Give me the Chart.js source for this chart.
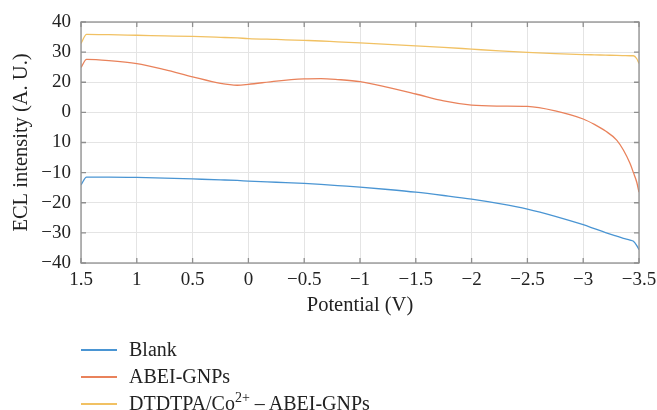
<!DOCTYPE html>
<html>
<head>
<meta charset="utf-8">
<script src="https://cdn.jsdelivr.net/npm/chart.js@4/dist/chart.umd.min.js"></script>
<style>
  body { margin: 0; background: #fff; }
  #wrap { position: relative; width: 657px; height: 410px; overflow: hidden; }
  #legend { position: absolute; left: 81px; top: 336px; font-family: "Liberation Serif", "Times New Roman", serif; font-size: 20px; color: #222; }
  #legend .row { display: flex; align-items: center; height: 27px; }
  #legend .swatch { width: 36px; height: 2px; margin-right: 12px; }
</style>
</head>
<body>
<div id="wrap">
  <canvas id="chart" width="657" height="410"></canvas>
  <div id="legend"></div>
</div>
<script>
// potential (V), shared by all three curves
const potential = [1.5, 1.45, 1.25, 1.0, 0.75, 0.5, 0.25, 0.1, 0, -0.25, -0.5, -0.65, -0.8, -1, -1.25,
  -1.5, -1.75, -2, -2.25, -2.5, -2.75, -3, -3.1, -3.2, -3.3, -3.36, -3.42, -3.45, -3.48, -3.5];

const blank = [-14.1, -11.5, -11.5, -11.6, -11.8, -12.1, -12.4, -12.6, -12.8, -13.2, -13.6, -13.9, -14.3, -14.8, -15.6,
  -16.5, -17.6, -18.8, -20.3, -22.1, -24.5, -27.3, -28.6, -29.9, -31.1, -31.8, -32.4, -32.8, -34.2, -35.6];
const abeiGnps = [24.9, 27.6, 27.2, 26.2, 24.2, 21.8, 19.6, 19.0, 19.3, 20.4, 21.1, 21.2, 20.9, 20.2, 18.3,
  16.1, 13.8, 12.4, 12.1, 12.0, 10.5, 7.8, 6.0, 3.8, 0.8, -2.5, -7.0, -10.0, -13.2, -16.5];
const dtdtpa = [32.9, 35.9, 35.8, 35.6, 35.4, 35.2, 34.9, 34.7, 34.5, 34.2, 33.9, 33.7, 33.4, 33.1, 32.6,
  32.1, 31.6, 31.0, 30.4, 29.9, 29.5, 29.2, 29.1, 29.0, 28.9, 28.85, 28.8, 28.8, 27.8, 26.2];

const seriesLabels = ["Blank", "ABEI-GNPs", "DTDTPA/Co2+ – ABEI-GNPs"];
const seriesColors = ["#4a95d3", "#e9825b", "#f1c163"];

// tick labels as printed on the figure (top to bottom / left to right)
const yTickLabels = ["40", "30", "20", "0", "10", "−10", "−20", "−30", "−40"];
const xTickLabels = ["1.5", "1", "0.5", "0", "−0.5", "−1", "−1.5", "−2", "−2.5", "−3", "−3.5"];

const serif = "'Liberation Serif', 'Times New Roman', serif";
Chart.defaults.font.family = serif;
Chart.defaults.font.size = 19;
Chart.defaults.color = "#222";

const toPoints = (vals) => vals.map((v, i) => ({ x: potential[i], y: v }));

// box round the plot with ticks pointing inwards
const frame = {
  id: "frame",
  afterDraw(chart) {
    const { ctx, chartArea: a, scales: { x, y } } = chart;
    ctx.save();
    ctx.strokeStyle = "#8f8f8f";
    ctx.lineWidth = 1.3;
    ctx.strokeRect(a.left, a.top, a.right - a.left, a.bottom - a.top);
    ctx.beginPath();
    x.ticks.forEach((t) => {
      const px = x.getPixelForValue(t.value);
      ctx.moveTo(px, a.bottom); ctx.lineTo(px, a.bottom - 5);
      ctx.moveTo(px, a.top); ctx.lineTo(px, a.top + 5);
    });
    y.ticks.forEach((t) => {
      const py = y.getPixelForValue(t.value);
      ctx.moveTo(a.left, py); ctx.lineTo(a.left + 5, py);
      ctx.moveTo(a.right, py); ctx.lineTo(a.right - 5, py);
    });
    ctx.stroke();
    ctx.restore();
  },
};

const datasets = [blank, abeiGnps, dtdtpa].map((vals, i) => ({
  label: seriesLabels[i],
  data: toPoints(vals),
  borderColor: seriesColors[i],
  backgroundColor: seriesColors[i],
  borderWidth: 1.3,
  pointRadius: 0,
  cubicInterpolationMode: "monotone",
}));

new Chart(document.getElementById("chart"), {
  type: "line",
  data: { datasets },
  options: {
    responsive: false,
    animation: false,
    devicePixelRatio: 1,
    layout: { padding: { top: 22, right: 18, bottom: 92, left: 0 } },
    plugins: { legend: { display: false }, tooltip: { enabled: false } },
    scales: {
      x: {
        type: "linear",
        reverse: true,
        min: -3.5,
        max: 1.5,
        afterFit: (s) => { s.height = 55; s.paddingLeft = 0; s.paddingRight = 0; },
        ticks: {
          stepSize: 0.5,
          padding: 6,
          maxRotation: 0,
          callback: (v) => xTickLabels[Math.round((1.5 - v) / 0.5)],
        },
        grid: { color: "#e4e4e4", drawTicks: false },
        border: { display: false },
        title: { display: true, text: "Potential (V)", font: { size: 20.5 }, padding: { top: 0, bottom: 0 } },
      },
      y: {
        min: -40,
        max: 40,
        afterFit: (s) => { s.width = 81; },
        ticks: {
          stepSize: 10,
          padding: 10,
          callback: (v) => yTickLabels[Math.round((40 - v) / 10)],
        },
        grid: { color: "#e4e4e4", drawTicks: false },
        border: { display: false },
        title: { display: true, text: "ECL intensity (A. U.)", font: { size: 20.5 }, padding: { top: 9, bottom: 0 } },
      },
    },
  },
  plugins: [frame],
});

// legend below the plot, with the superscript charge
const legend = document.getElementById("legend");
seriesLabels.forEach((label, i) => {
  const row = document.createElement("div");
  row.className = "row";
  const sw = document.createElement("span");
  sw.className = "swatch";
  sw.style.background = seriesColors[i];
  const txt = document.createElement("span");
  txt.innerHTML = label.replace("Co2+", "Co<sup style=\"font-size:14px;vertical-align:8px;line-height:0\">2+</sup>");
  row.appendChild(sw);
  row.appendChild(txt);
  legend.appendChild(row);
});
</script>
</body>
</html>
